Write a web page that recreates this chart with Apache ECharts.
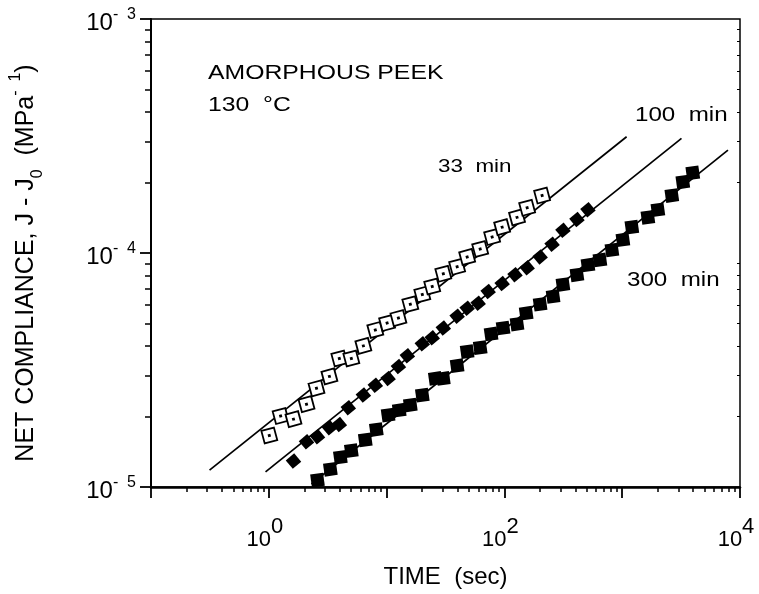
<!DOCTYPE html>
<html>
<head>
<meta charset="utf-8">
<script src="https://cdn.jsdelivr.net/npm/echarts@6/dist/echarts.min.js"></script>
<style>html,body{margin:0;padding:0;background:#fff}#c{width:759px;height:594px}</style>
</head>
<body>
<div id="c"></div>
<script>
// ---- data (time in s, net compliance in MPa^-1) ----
const t33 = [1.01,1.26,1.62,2.09,2.54,3.27,3.97,5.02,6.35,8.02,10.1,12.6,15.9,20.1,24.4,30.3,39.7,48.3,62.3,78.7,95.7,128,156,209];
const j33 = [1.66e-5,2.01e-5,1.95e-5,2.26e-5,2.64e-5,2.97e-5,3.54e-5,3.54e-5,4.01e-5,4.69e-5,5.02e-5,5.27e-5,6.04e-5,6.65e-5,7.19e-5,8.15e-5,8.73e-5,9.62e-5,1.04e-4,1.17e-4,1.29e-4,1.42e-4,1.56e-4,1.76e-4];
const t100 = [1.62,2.09,2.59,3.27,3.97,4.73,6.35,8.02,10.3,12.6,15.0,20.1,24.4,30.3,39.7,48.3,59.9,72.8,95.7,123,156,201,254,314,413,512];
const j100 = [1.29e-5,1.56e-5,1.64e-5,1.79e-5,1.85e-5,2.18e-5,2.47e-5,2.72e-5,2.91e-5,3.27e-5,3.64e-5,4.09e-5,4.34e-5,4.78e-5,5.37e-5,5.81e-5,6.10e-5,6.85e-5,7.40e-5,8.07e-5,8.64e-5,9.62e-5,1.09e-4,1.25e-4,1.39e-4,1.53e-4];
const t300 = [2.59,3.33,4.05,5.02,6.59,8.18,10.3,12.8,15.9,20.1,25.9,30.3,39.7,48.3,62.3,77.1,97.5,128,153,201,259,314,413,512,647,818,1014,1208,1652,2009,2638,3270,3973];
const j300 = [1.07e-5,1.19e-5,1.34e-5,1.43e-5,1.59e-5,1.76e-5,2.03e-5,2.13e-5,2.24e-5,2.47e-5,2.91e-5,2.91e-5,3.30e-5,3.79e-5,3.94e-5,4.51e-5,4.78e-5,4.97e-5,5.53e-5,6.04e-5,6.52e-5,7.33e-5,8.07e-5,8.89e-5,9.34e-5,1.03e-4,1.14e-4,1.29e-4,1.42e-4,1.53e-4,1.76e-4,2.01e-4,2.20e-4];
// fitted straight lines (end points)
const fit33t = [0.314, 1090],  fit33j = [1.18e-5, 3.14e-4];
const fit100t = [0.938, 3187], fit100j = [1.16e-5, 3.09e-4];
const fit300t = [2.3, 7907],   fit300j = [1.03e-5, 2.75e-4];
// axis tick labels (decade exponents)
const xDecades = [-1, 0, 1, 2, 3, 4];
const xLabelExp = [0, 2, 4];
const yDecades = [-5, -4, -3];
const yLabelExp = [-5, -4, -3];

const FONT = '"Liberation Sans", Arial, Helvetica, sans-serif';
const pairs = (a, b) => a.map((v, i) => [v, b[i]]);
function minorLogs(decs) {
  const out = [];
  for (let i = 0; i < decs.length - 1; i++)
    for (let k = 2; k <= 9; k++) out.push(decs[i] + Math.log10(k));
  return out;
}
const blk = '#000';

const chart = echarts.init(document.getElementById('c'), null, {renderer: 'canvas'});
const hidden = {show: false};
const option = {
  animation: false,
  backgroundColor: '#fff',
  grid: {left: 148, top: 19, width: 592, height: 474, show: true, borderColor: blk, borderWidth: 1.5, backgroundColor: 'transparent'},
  xAxis: [
    {type: 'log', logBase: 10, min: 0.1, max: 10000, position: 'bottom',
     axisLine: {show: true, onZero: false, lineStyle: {color: blk, width: 2.5}},
     axisTick: hidden, axisLabel: hidden, splitLine: hidden, minorTick: hidden,
     name: 'TIME  (sec)', nameLocation: 'middle', nameGap: 78,
     nameTextStyle: {fontFamily: FONT, fontSize: 24, color: blk}},
    {type: 'value', min: -1, max: 4, position: 'bottom',
     axisLine: {show: false, onZero: false},
     axisTick: {show: true, length: 5, lineStyle: {color: blk, width: 1.5}, customValues: minorLogs(xDecades)},
     axisLabel: hidden, splitLine: hidden},
    {type: 'value', min: -1, max: 4, position: 'bottom',
     axisLine: {show: false, onZero: false},
     axisTick: {show: true, length: 11, lineStyle: {color: blk, width: 1.8}, customValues: xDecades},
     axisLabel: {show: true, customValues: xLabelExp, margin: 42, padding: [0, 8, 0, 0],
       formatter: v => '{b|10}{s|' + v + '}',
       rich: {b: {fontFamily: FONT, fontSize: 22, color: blk, verticalAlign: 'bottom', lineHeight: 22},
              s: {fontFamily: FONT, fontSize: 22, color: blk, verticalAlign: 'bottom', lineHeight: 22, padding: [0, 0, 13, 0]}}},
     splitLine: hidden}
  ],
  yAxis: [
    {type: 'log', logBase: 10, min: 1e-5, max: 1e-3, position: 'left',
     axisLine: {show: true, onZero: false, lineStyle: {color: blk, width: 2}},
     axisTick: hidden, axisLabel: hidden, splitLine: hidden, minorTick: hidden,
     name: '{t|NET COMPLIANCE, J - J}{sb|0}{t|  (MPa}{sp|-  1}{t|)}',
     nameLocation: 'middle', nameRotate: 90, nameGap: 105,
     nameTextStyle: {fontFamily: FONT, fontSize: 25, color: blk, padding: [0, 20, 0, 0],
       rich: {t: {fontFamily: FONT, fontSize: 25, color: blk, verticalAlign: 'bottom', padding: [0, 0, 7, 0]},
              sb: {fontFamily: FONT, fontSize: 16, color: blk, verticalAlign: 'bottom'},
              sp: {fontFamily: FONT, fontSize: 16, color: blk, verticalAlign: 'bottom', padding: [0, 0, 22, 0]}}}},
    {type: 'value', min: -5, max: -3, position: 'left',
     axisLine: {show: false, onZero: false},
     axisTick: {show: true, length: 6, lineStyle: {color: blk, width: 1.5}, customValues: minorLogs(yDecades)},
     axisLabel: hidden, splitLine: hidden},
    {type: 'value', min: -5, max: -3, position: 'left',
     axisLine: {show: false, onZero: false},
     axisTick: {show: true, length: 11, lineStyle: {color: blk, width: 1.8}, customValues: yDecades},
     axisLabel: {show: true, customValues: yLabelExp, margin: 15, padding: [8, 0, 0, 0],
       formatter: v => '{b|10}{s|-  ' + Math.abs(v) + '}',
       rich: {b: {fontFamily: FONT, fontSize: 24, color: blk, verticalAlign: 'bottom', lineHeight: 24},
              s: {fontFamily: FONT, fontSize: 16, color: blk, verticalAlign: 'bottom', lineHeight: 16, padding: [0, 0, 12, 0]}}},
     splitLine: hidden},
    {type: 'value', min: -5, max: -3, position: 'right',
     axisLine: {show: false, onZero: false},
     axisTick: {show: true, inside: true, length: 3, lineStyle: {color: blk, width: 1}, customValues: minorLogs(yDecades)},
     axisLabel: hidden, splitLine: hidden}
  ],
  series: [
    {type: 'line', name: 'fit 33', data: pairs(fit33t, fit33j), showSymbol: false, silent: true, z: 2,
     lineStyle: {color: blk, width: 1.7}},
    {type: 'line', name: 'fit 100', data: pairs(fit100t, fit100j), showSymbol: false, silent: true, z: 2,
     lineStyle: {color: blk, width: 1.7}},
    {type: 'line', name: 'fit 300', data: pairs(fit300t, fit300j), showSymbol: false, silent: true, z: 2,
     lineStyle: {color: blk, width: 1.7}},
    {type: 'scatter', name: '33 min', data: pairs(t33, j33), z: 3,
     symbol: 'path://M0,0L10,0L10,10L0,10Z M4.6,4.6L5.4,4.6L5.4,5.4L4.6,5.4Z', symbolSize: 13, symbolRotate: 15,
     itemStyle: {color: '#fff', borderColor: blk, borderWidth: 1.8, opacity: 1}},
    {type: 'scatter', name: '100 min', data: pairs(t100, j100), z: 3,
     symbol: 'rect', symbolSize: 11, symbolRotate: 40,
     itemStyle: {color: blk, opacity: 1}},
    {type: 'scatter', name: '300 min', data: pairs(t300, j300), z: 3,
     symbol: 'rect', symbolSize: 13, symbolRotate: 8,
     itemStyle: {color: blk, opacity: 1}}
  ],
  graphic: [
    {type: 'text', x: 208, y: 73, scaleX: 1.18, style: {text: 'AMORPHOUS PEEK', font: '21px ' + FONT, fill: blk, textVerticalAlign: 'middle'}},
    {type: 'text', x: 208, y: 105, scaleX: 1.18, style: {text: '130  \u00B0C', font: '21px ' + FONT, fill: blk, textVerticalAlign: 'middle'}},
    {type: 'text', x: 438, y: 167, scaleX: 1.18, style: {text: '33  min', font: '19px ' + FONT, fill: blk, textVerticalAlign: 'middle'}},
    {type: 'text', x: 635, y: 115, scaleX: 1.15, style: {text: '100  min', font: '21px ' + FONT, fill: blk, textVerticalAlign: 'middle'}},
    {type: 'text', x: 627, y: 280, scaleX: 1.15, style: {text: '300  min', font: '21px ' + FONT, fill: blk, textVerticalAlign: 'middle'}}
  ]
};
chart.setOption(option);
</script>
</body>
</html>
